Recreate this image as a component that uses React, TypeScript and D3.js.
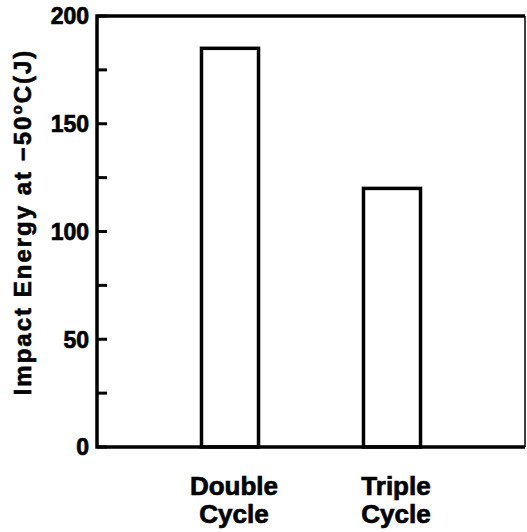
import * as d3 from "d3";

const categories = ["Double Cycle", "Triple Cycle"];
const impactEnergy = [185, 120];
const majorTicks = [0, 50, 100, 150, 200];
const minorTicks = [25, 75, 125, 175];

export default function App() {
  const width = 527;
  const height = 532;
  const margin = { top: 16, right: 2, bottom: 85, left: 97 };
  const font = "'Liberation Sans', Arial, sans-serif";

  const x = d3
    .scaleBand()
    .domain(categories)
    .range([margin.left, width - margin.right])
    .paddingInner(0.648)
    .paddingOuter(0.645);

  const y = d3
    .scaleLinear()
    .domain([0, 200])
    .range([height - margin.bottom, margin.top]);

  const x0 = margin.left;
  const x1 = width - margin.right;

  return (
    <svg
      width={width}
      height={height}
      style={{ position: "absolute", left: 0, top: 0, background: "#fff" }}
    >
      {/* frame */}
      <path
        d={`M${x1},${y(200)} L${x0},${y(200)} L${x0},${y(0)} L${x1},${y(0)}`}
        fill="none"
        stroke="#000"
        strokeWidth={3.5}
      />
      <line x1={x1} x2={x1} y1={y(200)} y2={y(0)} stroke="#000" strokeWidth={1.5} />

      {/* ticks, pointing inward */}
      {majorTicks.concat(minorTicks).map((t) => (
        <line key={t} x1={x0} x2={x0 + 10} y1={y(t)} y2={y(t)} stroke="#000" strokeWidth={3} />
      ))}
      {majorTicks.map((t) => (
        <text
          key={t}
          x={x0 - 8}
          y={y(t)}
          dy="0.36em"
          textAnchor="end"
          fontFamily={font}
          fontWeight="bold"
          fontSize={23}
          stroke="#000"
          strokeWidth={0.7}
        >
          {t}
        </text>
      ))}

      {/* bars */}
      {categories.map((c, i) => (
        <rect
          key={c}
          x={x(c)}
          y={y(impactEnergy[i])}
          width={x.bandwidth()}
          height={y(0) - y(impactEnergy[i])}
          fill="none"
          stroke="#000"
          strokeWidth={3.5}
        />
      ))}

      {/* category labels */}
      {categories.map((c) => {
        const cx = (x(c) as number) + x.bandwidth() / 2 + 4;
        return (
          <text
            key={c}
            x={cx}
            textAnchor="middle"
            fontFamily={font}
            fontWeight="bold"
            fontSize={26}
            stroke="#000"
            strokeWidth={0.7}
          >
            {c.split(" ").map((w, j) => (
              <tspan key={j} x={cx} y={495 + j * 28}>
                {w}
              </tspan>
            ))}
          </text>
        );
      })}

      {/* y axis title */}
      <text
        transform={`translate(31,222) rotate(-90)`}
        textAnchor="middle"
        fontFamily={font}
        fontWeight="bold"
        fontSize={24}
        letterSpacing={2}
        stroke="#000"
        strokeWidth={0.6}
      >
        Impact Energy at −50
        <tspan dy={-9} fontSize={15}>o</tspan>
        <tspan dy={9}>C(J)</tspan>
      </text>
    </svg>
  );
}
